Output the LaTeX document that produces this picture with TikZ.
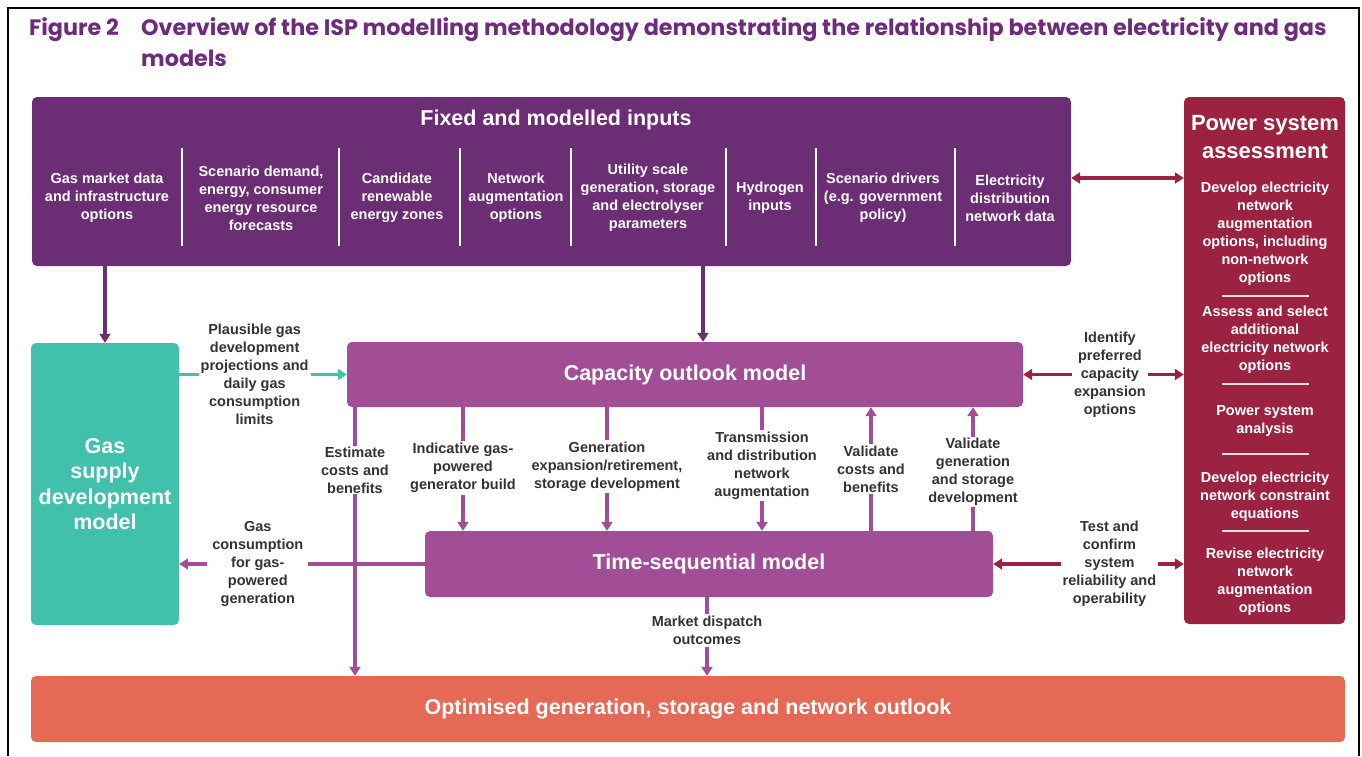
\documentclass[tikz,border=0pt]{standalone}
\usepackage{fontspec}
\setmainfont{Liberation Sans}
\newfontfamily\titlefont{Poppins}
\usetikzlibrary{arrows.meta,positioning,calc}

\definecolor{inpurple}{HTML}{6B2D73}
\definecolor{modpurple}{HTML}{A14E97}
\definecolor{powred}{HTML}{9B2341}
\definecolor{gasteal}{HTML}{41C0AC}
\definecolor{outcoral}{HTML}{E56955}
\definecolor{lblgrey}{HTML}{333333}
\definecolor{ttlpurple}{HTML}{6C2C7B}

\tikzset{
  blk/.style={rounded corners=5pt, align=center, inner sep=0pt, text=white,
              font=\bfseries\fontsize{21.5}{26}\selectfont},
  itm/.style={align=center, inner sep=0pt, text=white,
              font=\bfseries\fontsize{14.5}{18}\selectfont},
  lbl/.style={align=center, inner sep=2pt, fill=white, text=lblgrey,
              font=\bfseries\fontsize{14.5}{18}\selectfont},
  hdg/.style={anchor=north west, align=left, text=ttlpurple, inner sep=0pt,
              font=\titlefont\bfseries\fontsize{22.3}{31}\selectfont},
  sep/.style={draw=white, line width=1.5pt},
  sig/.style={-{Triangle[length=9pt,width=11pt]}, line width=3.3pt},
  dsig/.style={{Triangle[length=9pt,width=11pt]}-{Triangle[length=9pt,width=11pt]},
               line width=3.3pt},
}

\begin{document}
\begin{tikzpicture}[x=1pt,y=-1pt]
    \useasboundingbox (0,0) rectangle (1362,756);
    \draw[line width=2pt] (8,756) -- (8,8) -- (1359,8) -- (1359,756);

    % heading
    \node[hdg] (fig) at (29,17) {Figure 2};
    \node[hdg] (ttl) at (141,17)
      {Overview of the ISP modelling methodology demonstrating the relationship between electricity and gas\\models};

    % boxes
    \node[blk,fill=inpurple,minimum width=1039pt,minimum height=169pt] (inputs) at (551.5,181.5) {};
    \node[blk] (inttl) at (556,120) {Fixed and modelled inputs};
    \node[blk,fill=powred,minimum width=161pt,minimum height=527pt] (power) at (1264.5,360.5) {};
    \node[blk,font=\bfseries\fontsize{22}{28}\selectfont] (powttl) at (1265,137) {Power system\\assessment};
    \node[blk,fill=gasteal,minimum width=148pt,minimum height=282pt,
      font=\bfseries\fontsize{21.5}{25.5}\selectfont] (gas) at (105,484)
      {Gas\\supply\\development\\model};
    \node[blk,fill=modpurple,minimum width=676pt,minimum height=65pt] (cap) at (685,374.5)
      {Capacity outlook model};
    \node[blk,fill=modpurple,minimum width=568pt,minimum height=66pt] (tsm) at (709,564)
      {Time-sequential model};
    \node[blk,fill=outcoral,minimum width=1314pt,minimum height=66pt] (outlook) at (688,709)
      {Optimised generation, storage and network outlook};

    % input columns
    \node[itm] (gasdata) at (107,198) {Gas market data\\and infrastructure\\options};
    \node[itm] (demand) at (261,198) {Scenario demand,\\energy, consumer\\energy resource\\forecasts};
    \node[itm] (rez) at (397,198) {Candidate\\renewable\\energy zones};
    \node[itm] (netaug) at (516,198) {Network\\augmentation\\options};
    \node[itm] (utility) at (648,198) {Utility scale\\generation, storage\\and electrolyser\\parameters};
    \node[itm] (hydrogen) at (770,198) {Hydrogen\\inputs};
    \node[itm] (drivers) at (883,198) {Scenario drivers\\(e.g. government\\policy)};
    \node[itm] (distrib) at (1010,198) {Electricity\\distribution\\network data};
    \draw[sep] (182,148) -- (182,246);
    \draw[sep] (339,148) -- (339,246);
    \draw[sep] (460,148) -- (460,246);
    \draw[sep] (571,148) -- (571,246);
    \draw[sep] (726,148) -- (726,246);
    \draw[sep] (816,148) -- (816,246);
    \draw[sep] (955,148) -- (955,246);

    % power system assessment steps
    \node[itm] (augopt) at (1265,233.5)
      {Develop electricity\\network\\augmentation\\options, including\\non-network\\options};
    \node[itm] (select) at (1265,339.5) {Assess and select\\additional\\electricity network\\options};
    \node[itm] (psa) at (1265,421) {Power system\\analysis};
    \node[itm] (constr) at (1265,496.5) {Develop electricity\\network constraint\\equations};
    \node[itm] (revise) at (1265,582) {Revise electricity\\network\\augmentation\\options};
    \draw[sep,draw=white!85!powred] (1222,296) -- (1309,296);
    \draw[sep,draw=white!85!powred] (1222,384) -- (1309,384);
    \draw[sep,draw=white!85!powred] (1222,454) -- (1309,454);
    \draw[sep,draw=white!85!powred] (1222,531) -- (1309,531);

    % inputs feed the models
    \draw[sig,inpurple] (inputs.south -| gas.north) -- (gas.north);
    \draw[sig,inpurple] ([xshift=18pt]cap.north |- inputs.south) -- ([xshift=18pt]cap.north);
    \draw[dsig,powred] ([yshift=3.5pt]inputs.east) -- ([yshift=3.5pt]inputs.east -| power.west);

    % gas model links
    \draw[sig,gasteal] (gas.east |- cap.west) -- node[lbl,pos=0.45]
      {Plausible gas\\development\\projections and\\daily gas\\consumption\\limits} (cap.west);
    \draw[sig,modpurple] (tsm.west) -- node[lbl,pos=0.68,inner sep=5pt]
      {Gas\\consumption\\for gas-\\powered\\generation} (tsm.west -| gas.east);

    % capacity outlook <-> time-sequential
    \draw[sig,modpurple] ([xshift=-330pt]cap.south) -- node[lbl,pos=0.234,inner sep=1pt]
      {Estimate\\costs and\\benefits} ([xshift=-330pt]cap.south |- outlook.north);
    \draw[sig,modpurple] ([xshift=-222pt]cap.south) -- node[lbl,pos=0.49]
      {Indicative gas-\\powered\\generator build} ([xshift=-222pt]cap.south |- tsm.north);
    \draw[sig,modpurple] ([xshift=-78pt]cap.south) -- node[lbl,pos=0.48]
      {Generation\\expansion/retirement,\\storage development} ([xshift=-78pt]cap.south |- tsm.north);
    \draw[sig,modpurple] ([xshift=77pt]cap.south) -- node[lbl,pos=0.47]
      {Transmission\\and distribution\\network\\augmentation} ([xshift=77pt]cap.south |- tsm.north);
    \draw[sig,modpurple] ([xshift=186pt]cap.south |- tsm.north) -- node[lbl,pos=0.5]
      {Validate\\costs and\\benefits} ([xshift=186pt]cap.south);
    \draw[sig,modpurple] ([xshift=288pt]cap.south |- tsm.north) -- node[lbl,pos=0.476,inner sep=1pt]
      {Validate\\generation\\and storage\\development} ([xshift=288pt]cap.south);
    \draw[sig,modpurple] ([xshift=-2pt]tsm.south) -- node[lbl,pos=0.42]
      {Market dispatch\\outcomes} ([xshift=-2pt]tsm.south |- outlook.north);

    % models <-> power system assessment
    \draw[dsig,powred] (cap.east) -- node[lbl,pos=0.54]
      {Identify\\preferred\\capacity\\expansion\\options} (cap.east -| power.west);
    \draw[dsig,powred] (tsm.east) -- node[lbl,pos=0.61]
      {Test and\\confirm\\system\\reliability and\\operability} (tsm.east -| power.west);
  \end{tikzpicture}
\end{document}
